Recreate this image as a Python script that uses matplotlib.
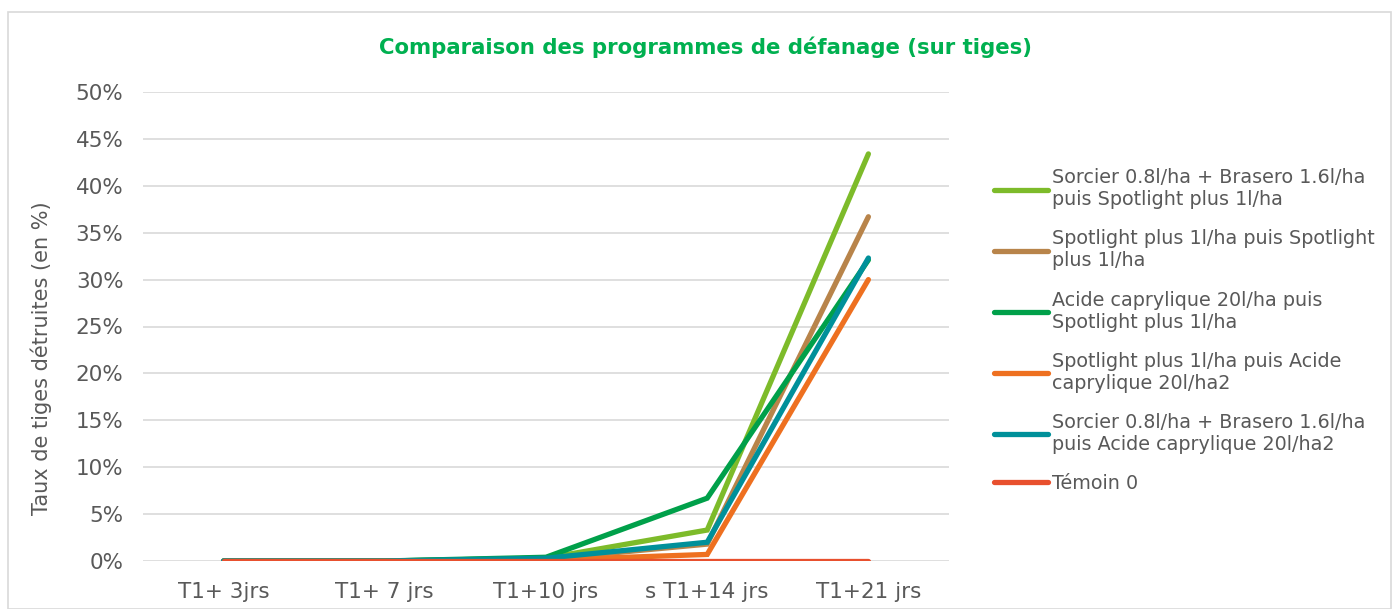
import matplotlib
matplotlib.use("Agg")
import matplotlib.pyplot as plt
from matplotlib.ticker import PercentFormatter
from matplotlib.patches import Rectangle

categories = ["T1+ 3jrs", "T1+ 7 jrs", "T1+10 jrs", "s T1+14 jrs", "T1+21 jrs"]
series_names = [
    "Sorcier 0.8l/ha + Brasero 1.6l/ha\npuis Spotlight plus 1l/ha",
    "Spotlight plus 1l/ha puis Spotlight\nplus 1l/ha",
    "Acide caprylique 20l/ha puis\nSpotlight plus 1l/ha",
    "Spotlight plus 1l/ha puis Acide\ncaprylique 20l/ha2",
    "Sorcier 0.8l/ha + Brasero 1.6l/ha\npuis Acide caprylique 20l/ha2",
    "Témoin 0",
]
sorcier_spotlight = [0.0, 0.0, 0.3, 3.3, 43.4]
spotlight_spotlight = [0.0, 0.0, 0.2, 1.8, 36.7]
acide_spotlight = [0.0, 0.0, 0.4, 6.7, 32.1]
spotlight_acide = [0.0, 0.0, 0.1, 0.7, 30.0]
sorcier_acide = [0.0, 0.0, 0.3, 2.0, 32.3]
temoin = [0.0, 0.0, 0.0, 0.0, 0.0]
colors = ["#7DBB2A", "#B8844A", "#00A04A", "#EE7020", "#00909A", "#E8502E"]

values = [sorcier_spotlight, spotlight_spotlight, acide_spotlight,
          spotlight_acide, sorcier_acide, temoin]

plt.rcParams['font.family'] = ['DejaVu Sans']
fig = plt.figure(figsize=(13.99, 6.09), dpi=100)
ax = fig.add_axes([143/1399, 1 - 561/609, (949-143)/1399, (561-92)/609])

x = list(range(len(categories)))
for name, vals, c in zip(series_names, values, colors):
    ax.plot(x, vals, color=c, lw=3.8, label=name, solid_capstyle='round',
            solid_joinstyle='miter')

ax.set_xlim(-0.5, len(categories) - 0.5)
ax.set_ylim(0, 50)
ax.set_yticks(range(0, 51, 5))
ax.yaxis.set_major_formatter(PercentFormatter(decimals=0))
ax.set_xticks(x)
ax.set_xticklabels(categories)
ax.tick_params(axis='both', length=0, labelsize=15.5, colors="#595959")
ax.tick_params(axis='y', pad=14)
ax.tick_params(axis='x', pad=15)
ax.grid(axis='y', color="#D9D9D9", lw=1.2)
ax.set_axisbelow(True)
for s in ax.spines.values():
    s.set_visible(False)
ax.set_ylabel("Taux de tiges détruites (en %)", fontsize=15, color="#595959")
ax.yaxis.set_label_coords(52/1399, 1 - 358/609, transform=fig.transFigure)

fig.text(706/1399, 1 - 47/609, "Comparaison des programmes de défanage (sur tiges)",
         ha='center', va='center', fontsize=15.3, fontweight='bold', color="#00B050")

leg = fig.legend(loc='upper left', bbox_to_anchor=(977/1399, 1 - 151/609),
                 frameon=False, fontsize=13.8, handlelength=2.8, handletextpad=0.2,
                 labelspacing=1.05, labelcolor="#595959")

fig.patches.append(Rectangle((8/1399, 0), 1 - 16/1399, 1 - 12/609, transform=fig.transFigure,
                             fill=False, edgecolor="#D9D9D9", lw=1.2))

fig.savefig("out.png", dpi=100)
